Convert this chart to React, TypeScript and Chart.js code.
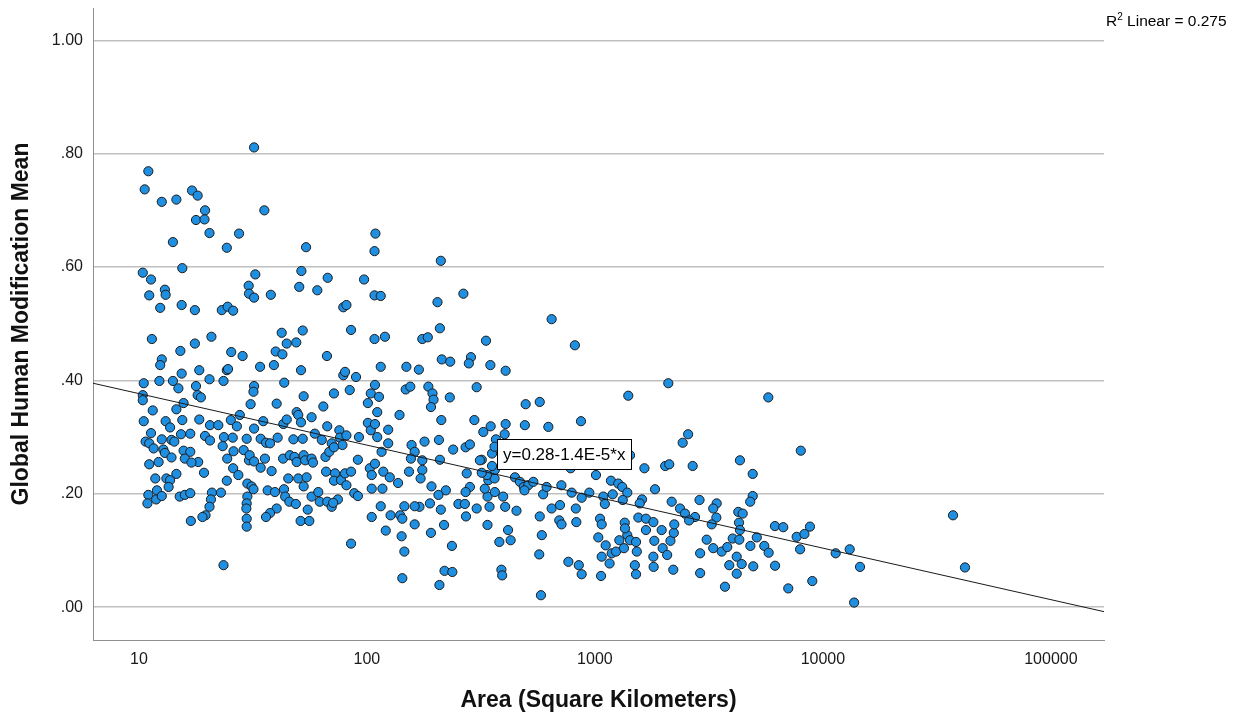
import React, { useEffect, useRef } from "react";
import { Chart, registerables } from "chart.js";

Chart.register(...registerables);

// Protected-area size (km²) and mean Global Human Modification index, one entry per site
const areaKm2 = [
  32.0, 11.0, 10.6, 12.6, 14.6, 17.1, 18.1, 19.5, 17.8, 19.4,
  35.5, 20.4, 27.5, 14.1, 24.3, 54.1, 15.5, 10.4, 11.3, 51.6,
  32.4, 67.3, 50.5, 60.6, 30.3, 30.4, 32.0, 37.9, 11.1, 13.0,
  13.1, 12.4, 15.4, 17.6, 23.1, 24.5, 25.9, 78.8, 11.4, 15.2,
  17.6, 20.8, 25.4, 28.5, 42.3, 44.5, 49.0, 52.3, 39.8, 42.6,
  66.8, 12.6, 12.4, 34.0, 39.1, 51.4, 18.4, 15.4, 24.3, 24.6,
  10.5, 12.3, 14.1, 14.9, 17.8, 20.4, 23.5, 32.0, 31.8, 43.4,
  10.4, 10.4, 18.1, 18.7, 15.7, 30.9, 40.2, 52.8, 71.7, 78.8,
  11.5, 14.6, 64.4, 10.5, 13.1, 13.7, 15.5, 18.4, 20.5, 22.3,
  25.3, 27.7, 26.9, 32.0, 35.1, 43.0, 44.5, 49.2, 50.0, 51.4,
  57.2, 67.0, 75.7, 11.3, 10.7, 11.1, 11.6, 12.6, 13.9, 14.3,
  15.3, 16.8, 19.5, 20.5, 23.6, 25.8, 29.7, 34.2, 36.1, 37.6,
  40.6, 47.6, 52.3, 59.1, 63.4, 70.1, 76.2, 78.1, 12.8, 13.0,
  15.7, 16.8, 13.9, 12.2, 11.1, 15.9, 18.2, 17.0, 23.3, 24.4,
  26.0, 28.8, 30.4, 30.6, 32.0, 34.2, 35.7, 25.9, 27.3, 19.3,
  14.6, 38.2, 42.9, 45.9, 48.1, 52.8, 49.2, 53.6, 57.2, 58.0,
  65.8, 68.4, 71.7, 66.2, 72.5, 11.8, 13.2, 13.7, 12.0, 13.5,
  11.0, 10.9, 11.9, 12.6, 15.1, 15.9, 16.8, 24.3, 20.9, 22.9,
  20.7, 20.4, 19.6, 19.0, 16.9, 29.9, 31.2, 31.8, 29.9, 29.7,
  29.6, 29.7, 29.7, 36.7, 39.5, 43.3, 43.8, 45.7, 48.8, 40.2,
  37.6, 36.1, 45.2, 50.0, 54.4, 52.8, 57.2, 61.2, 62.1, 67.0,
  70.1, 74.6, 71.1, 55.0, 51.2, 55.9, 23.5, 71.7, 77.0, 109,
  108, 211, 97.2, 108, 115, 265, 204, 81.3, 646, 85.2,
  209, 108, 120, 175, 185, 333, 213, 232, 286, 280,
  348, 115, 149, 169, 406, 80.2, 89.6, 84.1, 108.5, 104,
  113, 101, 111, 139, 148, 155, 186, 194, 196, 191,
  231, 303, 212, 296, 497, 573, 625, 493, 406, 402,
  349, 324, 81.3, 92.3, 101, 104, 108.5, 111, 124, 124,
  116, 91.3, 80.2, 85.2, 81.3, 88.0, 91.3, 103, 105, 108.5,
  118, 105, 117, 126, 137, 115, 105, 127, 121, 85.2,
  157, 162, 156, 175, 179, 207, 209, 175, 172, 192,
  153, 239, 271, 283, 319, 274, 283, 271, 222, 206,
  211, 189, 170, 162, 146, 140, 162, 143, 191, 218,
  142, 146, 236, 143, 208, 219, 237, 252, 269, 272,
  303, 338, 345, 364, 396, 404, 329, 341, 363, 364,
  336, 354, 319, 313, 354, 368, 363, 338, 416, 381,
  427, 389, 392, 453, 446, 469, 488, 510, 537, 491,
  593, 614, 573, 585, 570, 580, 817, 2099, 1401, 869,
  2564, 2427, 4327, 4923, 1426, 1649, 2034, 2119, 2685, 783,
  1011, 1176, 1266, 1318, 1387, 1835, 713, 791, 945, 875,
  1089, 1197, 1106, 1325, 1610, 1573, 2172, 2362, 2484, 2749,
  2589, 2877, 3421, 3304, 3410, 3254, 4256, 4450, 4288, 4327,
  4923, 4800, 4022, 4300, 4808, 3092, 3304, 3598, 3807, 2895,
  2895, 3720, 4189, 3885, 4405, 4189, 4950, 646, 703, 698,
  714, 825, 829, 765, 850, 875, 1053, 1071, 1035, 1115,
  1071, 1185, 1160, 1064, 1238, 1280, 1341, 1387, 1352, 1355,
  1426, 1515, 1527, 1497, 1515, 1551, 1675, 1805, 1675, 1963,
  1822, 1983, 2075, 2145, 2219, 1805, 1810, 2207, 2230, 5762,
  8000, 6163, 6701, 8777, 7674, 8300, 5130, 5533, 5784, 6170,
  7943, 7050, 8985, 11380, 13110, 14550, 13710, 37220, 42000,
];

const ghmMean = [
  0.811, 0.769, 0.737, 0.715, 0.719, 0.735, 0.726, 0.700, 0.683, 0.684,
  0.700, 0.660, 0.659, 0.644, 0.634, 0.635, 0.598, 0.590, 0.578, 0.593,
  0.587, 0.581, 0.565, 0.559, 0.567, 0.553, 0.546, 0.551, 0.550, 0.560,
  0.551, 0.528, 0.533, 0.524, 0.524, 0.530, 0.523, 0.529, 0.473, 0.452,
  0.465, 0.477, 0.450, 0.443, 0.484, 0.465, 0.467, 0.488, 0.451, 0.446,
  0.443, 0.437, 0.427, 0.424, 0.427, 0.418, 0.418, 0.412, 0.418, 0.420,
  0.395, 0.399, 0.399, 0.386, 0.390, 0.402, 0.399, 0.390, 0.380, 0.396,
  0.374, 0.365, 0.374, 0.370, 0.360, 0.358, 0.359, 0.372, 0.377, 0.409,
  0.347, 0.349, 0.354, 0.328, 0.328, 0.317, 0.330, 0.331, 0.321, 0.321,
  0.330, 0.339, 0.319, 0.315, 0.328, 0.323, 0.331, 0.344, 0.339, 0.326,
  0.335, 0.319, 0.312, 0.307, 0.292, 0.289, 0.280, 0.296, 0.295, 0.292,
  0.305, 0.306, 0.302, 0.294, 0.300, 0.299, 0.297, 0.297, 0.290, 0.289,
  0.299, 0.296, 0.297, 0.306, 0.295, 0.289, 0.299, 0.286, 0.278, 0.272,
  0.276, 0.274, 0.264, 0.256, 0.252, 0.262, 0.256, 0.255, 0.284, 0.262,
  0.275, 0.277, 0.259, 0.268, 0.257, 0.246, 0.262, 0.245, 0.233, 0.237,
  0.235, 0.240, 0.262, 0.268, 0.265, 0.268, 0.256, 0.259, 0.262, 0.255,
  0.265, 0.274, 0.282, 0.239, 0.236, 0.227, 0.227, 0.224, 0.206, 0.212,
  0.198, 0.183, 0.190, 0.196, 0.195, 0.198, 0.201, 0.223, 0.202, 0.202,
  0.190, 0.177, 0.162, 0.159, 0.152, 0.218, 0.213, 0.208, 0.195, 0.183,
  0.174, 0.156, 0.142, 0.206, 0.203, 0.208, 0.195, 0.186, 0.182, 0.174,
  0.166, 0.159, 0.227, 0.227, 0.229, 0.213, 0.195, 0.203, 0.186, 0.186,
  0.177, 0.190, 0.184, 0.172, 0.152, 0.152, 0.074, 0.223, 0.224, 0.659,
  0.628, 0.611, 0.578, 0.550, 0.549, 0.553, 0.538, 0.533, 0.508, 0.489,
  0.492, 0.473, 0.477, 0.473, 0.476, 0.470, 0.437, 0.433, 0.441, 0.430,
  0.427, 0.424, 0.424, 0.419, 0.417, 0.415, 0.406, 0.383, 0.392, 0.377,
  0.371, 0.360, 0.344, 0.339, 0.384, 0.389, 0.389, 0.377, 0.366, 0.353,
  0.370, 0.388, 0.330, 0.330, 0.358, 0.362, 0.318, 0.321, 0.323, 0.305,
  0.319, 0.309, 0.303, 0.300, 0.325, 0.312, 0.323, 0.300, 0.313, 0.289,
  0.274, 0.260, 0.236, 0.239, 0.215, 0.201, 0.196, 0.245, 0.233, 0.253,
  0.239, 0.209, 0.209, 0.229, 0.219, 0.178, 0.159, 0.162, 0.135, 0.112,
  0.286, 0.274, 0.262, 0.259, 0.292, 0.295, 0.260, 0.242, 0.227, 0.213,
  0.239, 0.278, 0.282, 0.287, 0.260, 0.236, 0.212, 0.203, 0.206, 0.198,
  0.172, 0.183, 0.177, 0.178, 0.178, 0.162, 0.146, 0.156, 0.131, 0.145,
  0.125, 0.098, 0.108, 0.051, 0.039, 0.064, 0.062, 0.182, 0.182, 0.160,
  0.174, 0.195, 0.177, 0.203, 0.195, 0.177, 0.209, 0.224, 0.227, 0.242,
  0.233, 0.249, 0.237, 0.259, 0.271, 0.296, 0.283, 0.145, 0.136, 0.115,
  0.118, 0.066, 0.056, 0.170, 0.229, 0.221, 0.212, 0.215, 0.221, 0.206,
  0.199, 0.212, 0.160, 0.127, 0.093, 0.021, 0.462, 0.395, 0.373, 0.328,
  0.305, 0.290, 0.259, 0.235, 0.268, 0.245, 0.249, 0.252, 0.249, 0.245,
  0.233, 0.223, 0.218, 0.212, 0.202, 0.208, 0.215, 0.202, 0.202, 0.193,
  0.195, 0.199, 0.182, 0.189, 0.190, 0.183, 0.186, 0.174, 0.165, 0.159,
  0.153, 0.189, 0.183, 0.174, 0.158, 0.146, 0.168, 0.165, 0.149, 0.136,
  0.196, 0.186, 0.121, 0.119, 0.108, 0.119, 0.104, 0.098, 0.106, 0.095,
  0.060, 0.036, 0.089, 0.074, 0.076, 0.059, 0.072, 0.174, 0.180, 0.153,
  0.146, 0.174, 0.150, 0.080, 0.074, 0.058, 0.156, 0.146, 0.123, 0.109,
  0.089, 0.095, 0.077, 0.055, 0.098, 0.118, 0.104, 0.127, 0.149, 0.139,
  0.118, 0.115, 0.098, 0.074, 0.058, 0.158, 0.156, 0.150, 0.136, 0.136,
  0.117, 0.104, 0.092, 0.117, 0.131, 0.089, 0.071, 0.066, 0.146, 0.370,
  0.276, 0.143, 0.141, 0.142, 0.124, 0.129, 0.123, 0.108, 0.096, 0.073,
  0.102, 0.033, 0.046, 0.095, 0.102, 0.071, 0.008, 0.162, 0.070,
];

// Fit line end points across the plotted area range
const fitArea = [6.29, 171000];
const fitMean = [0.395, -0.008];

const areaTicks = [10, 100, 1000, 10000, 100000];
const meanTicks = [0, 0.2, 0.4, 0.6, 0.8, 1.0];

const fitEquation = "y=0.28-1.4E-5*x";
const rSquaredLinear = "0.275";

const FONT = "'Liberation Sans', Arial, Helvetica, sans-serif";

const fitAnnotations = {
  id: "fitAnnotations",
  afterDraw(chart: any) {
    const { ctx, chartArea, scales } = chart;
    const xs = scales.x;
    const ys = scales.y;
    ctx.save();

    // equation box next to the fit line
    ctx.font = `17px ${FONT}`;
    const tw = ctx.measureText(fitEquation).width;
    const padX = 6;
    const boxH = 30;
    const left = Math.round(xs.getPixelForValue(372));
    const top = Math.round(ys.getPixelForValue(0.297));
    ctx.fillStyle = "#ffffff";
    ctx.fillRect(left, top, tw + padX * 2, boxH);
    ctx.strokeStyle = "#000000";
    ctx.lineWidth = 1;
    ctx.strokeRect(left + 0.5, top + 0.5, Math.round(tw + padX * 2), boxH);
    ctx.fillStyle = "#000000";
    ctx.textBaseline = "middle";
    ctx.textAlign = "left";
    ctx.fillText(fitEquation, left + padX, top + boxH / 2 + 1);

    // R² note at the top right
    let x = chartArea.right + 2;
    const base = 26;
    ctx.textBaseline = "alphabetic";
    ctx.font = `15.5px ${FONT}`;
    ctx.fillText("R", x, base);
    x += ctx.measureText("R").width;
    ctx.font = `10px ${FONT}`;
    ctx.fillText("2", x, base - 6);
    x += ctx.measureText("2").width;
    ctx.font = `15.5px ${FONT}`;
    ctx.fillText(" Linear = " + rSquaredLinear, x, base);
    ctx.restore();
  },
};

function formatMean(v: number) {
  if (v >= 1) return v.toFixed(2);
  return v.toFixed(2).replace(/^0/, "");
}

function clearScalePadding(s: any) {
  s.paddingTop = 0;
  s.paddingBottom = 0;
  s.paddingLeft = 0;
  s.paddingRight = 0;
}

export default function App() {
  const canvasRef = useRef<HTMLCanvasElement | null>(null);

  useEffect(() => {
    const canvas = canvasRef.current;
    if (!canvas) return;
    const points = areaKm2.map((a, i) => ({ x: a, y: ghmMean[i] }));
    const fit = fitArea.map((a, i) => ({ x: a, y: fitMean[i] }));

    const chart = new Chart(canvas, {
      type: "scatter",
      data: {
        datasets: [
          {
            type: "line",
            data: fit,
            borderColor: "#1a1a1a",
            borderWidth: 1,
            pointRadius: 0,
            fill: false,
            order: 0,
          } as any,
          {
            type: "scatter",
            data: points,
            backgroundColor: "#1f8fe2",
            borderColor: "#1b1b1b",
            borderWidth: 1,
            pointRadius: 4.6,
            order: 1,
          },
        ],
      },
      options: {
        animation: false,
        responsive: false,
        events: [],
        layout: { padding: { top: 8, right: 139, left: 0, bottom: 0 } },
        plugins: {
          legend: { display: false },
          tooltip: { enabled: false },
        },
        scales: {
          x: {
            type: "logarithmic",
            min: 6.29,
            max: 171000,
            afterBuildTicks: (s: any) => {
              s.ticks = areaTicks.map((v) => ({ value: v }));
            },
            afterFit: (s: any) => {
              s.height = 79;
              clearScalePadding(s);
            },
            grid: { display: true, drawOnChartArea: false, drawTicks: false },
            border: { display: true, color: "#8f8f8f", width: 1 },
            ticks: {
              autoSkip: false,
              maxRotation: 0,
              padding: 10,
              color: "#1a1a1a",
              font: { family: FONT, size: 16 },
              callback: (v: any) => String(v),
            },
            title: {
              display: true,
              text: "Area (Square Kilometers)",
              color: "#111111",
              font: { family: FONT, size: 23, weight: "bold" },
              padding: { top: 0, bottom: 5 },
            },
          },
          y: {
            type: "linear",
            min: -0.058,
            max: 1.057,
            afterBuildTicks: (s: any) => {
              s.ticks = meanTicks.map((v) => ({ value: v }));
            },
            afterFit: (s: any) => {
              s.width = 93;
              clearScalePadding(s);
            },
            grid: { color: "#c0c0c0", lineWidth: 1.5, drawTicks: false },
            border: { display: true, color: "#8f8f8f", width: 1 },
            ticks: {
              padding: 10,
              color: "#1a1a1a",
              font: { family: FONT, size: 16 },
              callback: (v: any) => formatMean(Number(v)),
            },
            title: {
              display: true,
              text: "Global Human Modification Mean",
              color: "#111111",
              font: { family: FONT, size: 23, weight: "bold" },
              padding: { top: 8, bottom: 0 },
            },
          },
        },
      },
      plugins: [fitAnnotations],
    });

    return () => chart.destroy();
  }, []);

  return (
    <div style={{ position: "fixed", left: 0, top: 0, width: 1243, height: 719, background: "#ffffff" }}>
      <canvas ref={canvasRef} width={1243} height={719} style={{ display: "block" }} />
    </div>
  );
}
